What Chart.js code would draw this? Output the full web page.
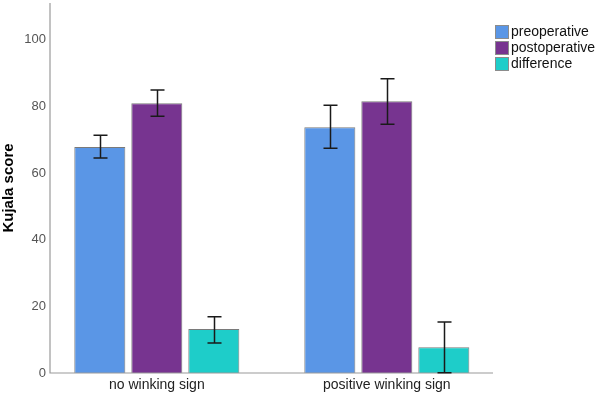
<!DOCTYPE html>
<html>
<head>
<meta charset="utf-8">
<script src="https://cdn.jsdelivr.net/npm/chart.js@4"></script>
<style>
html,body{margin:0;padding:0;background:#fff;}
#wrap{width:600px;height:395px;position:relative;}
</style>
</head>
<body>
<div id="wrap"><canvas id="c" width="600" height="395"></canvas></div>
<script>
const categories = ['no winking sign', 'positive winking sign'];
const seriesNames = ['preoperative', 'postoperative', 'difference'];
const preoperative = [67.8, 73.7];
const postoperative = [80.9, 81.5];
const difference = [13.2, 7.7];
const preopErrLow = [64.5, 67.4];
const preopErrHigh = [71.3, 80.3];
const postopErrLow = [77.0, 74.6];
const postopErrHigh = [84.9, 88.3];
const diffErrLow = [9.0, 0.1];
const diffErrHigh = [16.9, 15.3];
const yTicks = [0, 20, 40, 60, 80, 100];

const colors = ['#5A96E6', '#773490', '#1ECDC9'];
const errLow = [preopErrLow, postopErrLow, diffErrLow];
const errHigh = [preopErrHigh, postopErrHigh, diffErrHigh];
const values = [preoperative, postoperative, difference];

const errorBarPlugin = {
  id: 'errorBars',
  afterDatasetsDraw(chart) {
    const ctx = chart.ctx;
    const y = chart.scales.y;
    ctx.save();
    ctx.strokeStyle = '#1a1a1a';
    ctx.lineWidth = 1.5;
    chart.data.datasets.forEach((ds, di) => {
      const meta = chart.getDatasetMeta(di);
      meta.data.forEach((bar, i) => {
        const x = Math.round(bar.x) + 0.5;
        const yl = y.getPixelForValue(errLow[di][i]);
        const yh = y.getPixelForValue(errHigh[di][i]);
        const cw = 7;
        ctx.beginPath();
        ctx.moveTo(x, yl); ctx.lineTo(x, yh);
        ctx.moveTo(x - cw, yl); ctx.lineTo(x + cw, yl);
        ctx.moveTo(x - cw, yh); ctx.lineTo(x + cw, yh);
        ctx.stroke();
      });
    });
    ctx.restore();
  }
};

const legendPlugin = {
  id: 'customLegend',
  afterDraw(chart) {
    const ctx = chart.ctx;
    ctx.save();
    ctx.font = '14px "Liberation Sans", Arial, sans-serif';
    ctx.textBaseline = 'middle';
    ctx.textAlign = 'left';
    chart.data.datasets.forEach((ds, i) => {
      const top = 25 + i * 16;
      ctx.fillStyle = ds.backgroundColor;
      ctx.fillRect(495, top, 14, 14);
      ctx.strokeStyle = '#8c8c8c';
      ctx.lineWidth = 1;
      ctx.strokeRect(495.5, top + 0.5, 13, 13);
      ctx.fillStyle = '#111';
      ctx.fillText(ds.label, 511, top + 7.5);
    });
    ctx.restore();
  }
};

const axisLinePlugin = {
  id: 'axisLines',
  afterDatasetsDraw(chart) {
    const ctx = chart.ctx;
    const a = chart.chartArea;
    ctx.save();
    ctx.strokeStyle = '#9a9a9a';
    ctx.lineWidth = 1.2;
    ctx.beginPath();
    ctx.moveTo(a.left, a.top);
    ctx.lineTo(a.left, a.bottom);
    ctx.lineTo(a.right, a.bottom);
    ctx.stroke();
    ctx.restore();
  }
};

new Chart(document.getElementById('c'), {
  type: 'bar',
  data: {
    labels: categories,
    datasets: seriesNames.map((name, i) => ({
      label: name,
      data: values[i],
      backgroundColor: colors[i],
      borderColor: '#7a7a7a',
      borderWidth: 1,
      categoryPercentage: 0.7435,
      barPercentage: 0.895
    }))
  },
  options: {
    responsive: false,
    animation: false,
    devicePixelRatio: 1,
    layout: { padding: { top: 3, right: 107, left: 0, bottom: 0 } },
    plugins: { legend: { display: false }, tooltip: { enabled: false } },
    scales: {
      x: {
        offset: true,
        grid: { display: false, drawTicks: false },
        border: { display: false },
        ticks: { color: '#222', font: { size: 14, family: '"Liberation Sans", Arial, sans-serif' }, padding: 4 },
        afterBuildTicks: (s) => { s._startValue = -0.4644; s._valueRange = 1.926; },
        afterFit: (s) => { s.height = 22; s.paddingLeft = 0; s.paddingRight = 0; }
      },
      y: {
        min: 0,
        max: 111,
        grid: { display: false, drawTicks: false },
        border: { display: false },
        afterBuildTicks: (s) => { s.ticks = yTicks.map(v => ({ value: v })); },
        ticks: { color: '#555', font: { size: 13, family: '"Liberation Sans", Arial, sans-serif' }, padding: 4 },
        title: {
          display: true,
          text: 'Kujala score',
          color: '#000',
          font: { size: 15, weight: 'bold', family: '"Liberation Sans", Arial, sans-serif' },
          padding: { top: 0, bottom: 0 }
        },
        afterFit: (s) => { s.width = 50; s.paddingTop = 0; s.paddingBottom = 0; }
      }
    }
  },
  plugins: [axisLinePlugin, errorBarPlugin, legendPlugin]
});
</script>
</body>
</html>
